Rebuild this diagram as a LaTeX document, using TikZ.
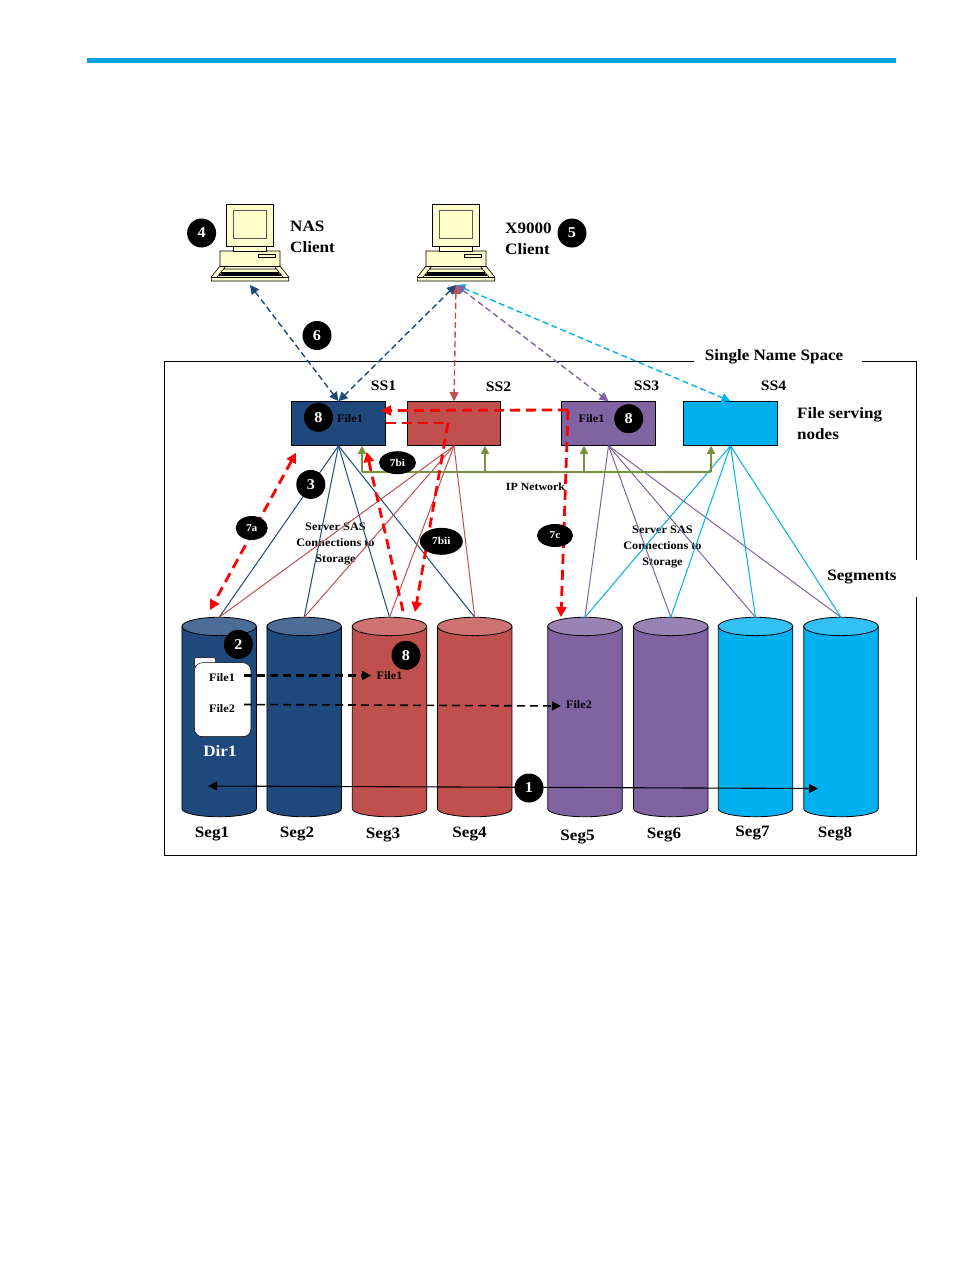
\documentclass[tikz,border=0pt]{standalone}
\usepackage{fontspec}
\setmainfont[FakeStretch=1.08]{Liberation Serif}
\usepackage{tikz}
\usetikzlibrary{arrows.meta,calc,positioning,shapes.geometric}

\definecolor{hpblue}{HTML}{00A1DE}
\definecolor{ssnavy}{HTML}{1F497D}
\definecolor{ssred}{HTML}{C0504D}
\definecolor{sspurple}{HTML}{8064A2}
\definecolor{sscyan}{HTML}{00B0F0}
\definecolor{ipgreen}{HTML}{76923C}
\definecolor{deskcream}{HTML}{FFFFCC}

\tikzset{
  ssbox/.style={draw=black,line width=0.8pt,minimum width=93.6pt,minimum height=43.8pt,inner sep=0pt},
  segnode/.style={minimum width=74.5pt,minimum height=199.5pt,inner sep=0pt,outer sep=0pt},
  badge/.style={circle,fill=black,text=white,font=\fontsize{15}{15}\selectfont\bfseries,minimum size=29pt,inner sep=0pt},
  stepoval/.style={ellipse,fill=black,text=white,font=\fontsize{10.5}{10.5}\selectfont\bfseries,inner sep=0pt},
  lbl/.style={font=\fontsize{15.8}{21}\selectfont\bfseries,inner sep=0pt,align=left,yshift=-1.5pt},
  sslbl/.style={font=\fontsize{14.5}{20}\selectfont\bfseries,inner sep=0pt},
  small/.style={font=\fontsize{11.4}{16}\selectfont\bfseries,inner sep=0pt,align=center,yshift=-1pt},
  clientlink/.style={<->,>={Triangle[length=9pt,width=9pt]},dash pattern=on 6pt off 3.5pt,line width=1.4pt},
  fanline/.style={line width=1pt},
  redflow/.style={red,>={Triangle[length=10pt,width=10pt]},dash pattern=on 10pt off 6pt,line width=2.8pt},
  ipnet/.style={ipgreen,line width=1.4pt},
  uparrow/.style={ipgreen,line width=1.4pt,-{Triangle[length=8pt,width=8pt]}},
  workstation/.pic={
    \draw[fill=deskcream,line width=0.6pt] (-30,-30) -- (30,-30) -- (30,-15) -- (38.7,-4) -- (38.7,0) -- (-38.7,0) -- (-38.7,-4) -- (-30,-15) -- cycle;
    \draw[line width=0.6pt] (-38.7,-4) -- (38.7,-4) (-30,-15) -- (30,-15);
    \draw[line width=0.6pt] (-24,-15) -- (-33,-4) (24,-15) -- (33,-4) (-27,-12) -- (27,-12);
    \draw[line width=1.1pt] (-29,-8) -- (29,-8) (-31,-6) -- (31,-6);
    \draw[fill=deskcream,line width=0.6pt] (-16.7,-34.5) rectangle (16.7,-30);
    \draw[fill=deskcream,line width=0.8pt] (-23.5,-76.7) rectangle (23.8,-34.5);
    \draw[fill=deskcream,draw=gray!70!black,line width=0.6pt] (-16.7,-70.7) rectangle (16.7,-42.5);
    \draw[line width=0.6pt] (8.3,-27) rectangle (25.7,-24);
    \coordinate (-port) at (0,4);
  },
}

% cylinder outline around a segment node
\newcommand{\segbody}[2]{%
  \draw[fill=#2,line width=0.8pt] (#1.north west) ++(0,9.2) -- ($(#1.south west)+(0,-8)$)
    arc[start angle=180,end angle=0,x radius=37.25,y radius=8] -- ($(#1.north east)+(0,9.2)$) -- cycle;
  \draw[fill=#2!80!white,line width=0.8pt] (#1.north) ++(0,9.2) ellipse[x radius=37.25,y radius=9.2];
}

\begin{document}
\begin{tikzpicture}[x=1pt,y=-1pt,on grid]
\useasboundingbox (0,0) rectangle (954,1270);
\fill[hpblue] (87,58) rectangle (896,63);

% name space frame
\draw[line width=0.7pt] (694,361.5) -- (164.5,361.5) -- (164.5,855) -- (916.5,855) -- (916.5,597)
  (916.5,560) -- (916.5,361.5) -- (862,361.5);
\node[lbl] (namespace) at (774,355) {Single Name Space};
\node[lbl] (segments) at (862,575.5) {Segments};

% clients
\pic (nas) at (250,281) {workstation};
\pic (x9k) at (456,281) {workstation};
\node[lbl,anchor=west] (nas_lbl) at (290,235) {NAS\\Client};
\node[lbl,anchor=west] (x9k_lbl) at (505,237) {X9000\\Client};

% segments
\node[segnode] (seg_1) at (219.2,717) {};
\node[segnode] (seg_2) [right=85pt of seg_1] {};
\node[segnode] (seg_3) [right=85.3pt of seg_2] {};
\node[segnode] (seg_4) [right=85.2pt of seg_3] {};
\node[segnode] (seg_5) [right=110.3pt of seg_4] {};
\node[segnode] (seg_6) [right=85.8pt of seg_5] {};
\node[segnode] (seg_7) [right=84.7pt of seg_6] {};
\node[segnode] (seg_8) [right=85.5pt of seg_7] {};
\segbody{seg_1}{ssnavy}
\segbody{seg_2}{ssnavy}
\segbody{seg_3}{ssred}
\segbody{seg_4}{ssred}
\segbody{seg_5}{sspurple}
\segbody{seg_6}{sspurple}
\segbody{seg_7}{sscyan}
\segbody{seg_8}{sscyan}

\node[lbl] (seg1_lbl) at (212,833) {Seg1};
\node[lbl] (seg2_lbl) at (297,833) {Seg2};
\node[lbl] (seg3_lbl) at (383,833.5) {Seg3};
\node[lbl] (seg4_lbl) at (469.5,833) {Seg4};
\node[lbl] (seg5_lbl) at (577.5,835) {Seg5};
\node[lbl] (seg6_lbl) at (664,834) {Seg6};
\node[lbl] (seg7_lbl) at (752.5,832) {Seg7};
\node[lbl] (seg8_lbl) at (835,832) {Seg8};

% file serving nodes
\node[ssbox,fill=ssnavy] (ss_1) at (338.5,423.5) {};
\node[ssbox,fill=ssred] (ss_2) [right=115.5pt of ss_1] {};
\node[ssbox,fill=sspurple] (ss_3) [right=154.5pt of ss_2] {};
\node[ssbox,fill=sscyan] (ss_4) [right=122pt of ss_3] {};

\node[sslbl] (ss1_lbl) at (383.5,386) {SS1};
\node[sslbl] (ss2_lbl) at (498.5,387) {SS2};
\node[sslbl] (ss3_lbl) at (646.5,386) {SS3};
\node[sslbl] (ss4_lbl) at (773.5,386) {SS4};
\node[lbl,anchor=west] (fsn_lbl) at (797,422) {File serving\\nodes};

\node[small] (sas_left) at (335.5,542.5) {Server SAS\\Connections to\\Storage};
\node[small] (sas_right) at (662.5,545.5) {Server SAS\\Connections to\\Storage};

% SAS connections
\path[fanline,ssnavy]
(ss_1.south) edge (seg_1.north)
(ss_1.south) edge (seg_2.north)
(ss_1.south) edge (seg_3.north)
(ss_1.south) edge (seg_4.north)
; %end path
\path[fanline,ssred]
(ss_2.south) edge (seg_1.north)
(ss_2.south) edge (seg_2.north)
(ss_2.south) edge (seg_3.north)
(ss_2.south) edge (seg_4.north)
; %end path
\path[fanline,sspurple]
(ss_3.south) edge (seg_5.north)
(ss_3.south) edge (seg_6.north)
(ss_3.south) edge (seg_7.north)
(ss_3.south) edge (seg_8.north)
; %end path
\path[fanline,sscyan]
(ss_4.south) edge (seg_5.north)
(ss_4.south) edge (seg_6.north)
(ss_4.south) edge (seg_7.north)
(ss_4.south) edge (seg_8.north)
; %end path

% IP network
\coordinate (ip_1) at (362,472);
\coordinate (ip_2) at (485,472);
\coordinate (ip_3) at (584,472);
\coordinate (ip_4) at (711,472);
\draw[ipnet] (ip_1) -- (ip_4);
\draw[uparrow] (ip_1) -- (ip_1 |- ss_1.south);
\draw[uparrow] (ip_2) -- (ip_2 |- ss_2.south);
\draw[uparrow] (ip_3) -- (ip_3 |- ss_3.south);
\draw[uparrow] (ip_4) -- (ip_4 |- ss_4.south);
\node[font=\fontsize{11}{11}\selectfont\bfseries,inner sep=0pt] (ip_lbl) at (535.5,486.5) {IP Network};

% client links
\draw[clientlink,ssnavy] (nas-port) -- (ss_1.north);
\draw[clientlink,sscyan] (x9k-port) -- (ss_4.north);
\draw[clientlink,sspurple] (x9k-port) -- (ss_3.north);
\draw[clientlink,ssred] (x9k-port) -- (ss_2.north);
\draw[clientlink,ssnavy] (x9k-port) -- (ss_1.north);

% directory and files
\node[fill=white,draw=black,line width=0.5pt,rounded corners=2pt,minimum width=21pt,minimum height=9pt,inner sep=0pt] (dir_tab) at (205,662) {};
\node[fill=white,draw=black,line width=0.5pt,rounded corners=8pt,minimum width=56.5pt,minimum height=74pt,inner sep=0pt] (dir_1) at (222.7,699.7) {};
\node[small] (file_a) at (222,677) {File1};
\node[small] (file_b) at (222,708) {File2};
\node[lbl,text=white] (dir_lbl) at (220,750) {Dir1};
\node[small] (ss1_file) at (350,418) {File1};
\node[small] (ss3_file) at (591.5,418) {File1};
\node[small] (seg3_file) at (389.5,675) {File1};
\node[small] (seg5_file) at (579,704) {File2};

% file placement
\coordinate (file_a_out) at (244,675.5);
\coordinate (file_b_out) at (244,704.5);
\coordinate (file_a_in) at (371,675.5);
\coordinate (file_b_in) at (561,706);
\draw[black,line width=2.4pt,dash pattern=on 8pt off 5pt,-{Triangle[length=9pt,width=9pt]}] (file_a_out) -- (file_a_in);
\draw[black,line width=1.6pt,dash pattern=on 8pt off 5pt,-{Triangle[length=9pt,width=9pt]}] (file_b_out) -- (file_b_in);
\coordinate (span_w) at (208,786);
\coordinate (span_e) at (818,788.5);
\draw[black,line width=1.1pt,{Triangle[length=9pt,width=9pt]}-{Triangle[length=9pt,width=9pt]}] (span_w) -- (span_e);

% request flows
\coordinate (flow_a) at (296,452.7);
\coordinate (flow_b) at (210,610);
\coordinate (flow_c) at (366.7,452);
\coordinate (flow_d) at (403,611);
\coordinate (flow_e) at (386,423);
\coordinate (flow_f) at (448,423);
\coordinate (flow_g) at (415,612);
\coordinate (flow_h) at (568,410);
\coordinate (flow_i) at (381,410.5);
\coordinate (flow_j) at (561,617);
\draw[redflow,<->] (flow_a) -- (flow_b);
\draw[redflow,<-] (flow_c) -- (flow_d);
\draw[redflow] (flow_e) -- (flow_f);
\draw[redflow,->] (flow_f) -- (flow_g);
\draw[redflow,->] (flow_h) -- (flow_i);
\draw[redflow,->] (flow_h) -- (flow_j);

% step markers
\node[badge] (b_1) at (529,788) {1};
\node[badge] (b_2) at (238.4,644.4) {2};
\node[badge] (b_3) at (310.8,484.4) {3};
\node[badge] (b_4) at (201.6,233) {4};
\node[badge] (b_5) at (572,233) {5};
\node[badge] (b_6) at (317,335.5) {6};
\node[badge] (b_8a) at (318.5,417.3) {8};
\node[badge] (b_8b) at (628.7,418.7) {8};
\node[badge] (b_8c) at (406,655.3) {8};
\node[stepoval,minimum width=37pt,minimum height=23pt] (b_7bi) at (397.5,462.7) {7bi};
\node[stepoval,minimum width=32pt,minimum height=24pt] (b_7a) at (251.7,528) {7a};
\node[stepoval,minimum width=43pt,minimum height=27pt] (b_7bii) at (441.3,541.3) {7bii};
\node[stepoval,minimum width=36pt,minimum height=23pt] (b_7c) at (555,535.5) {7c};
\end{tikzpicture}
\end{document}
